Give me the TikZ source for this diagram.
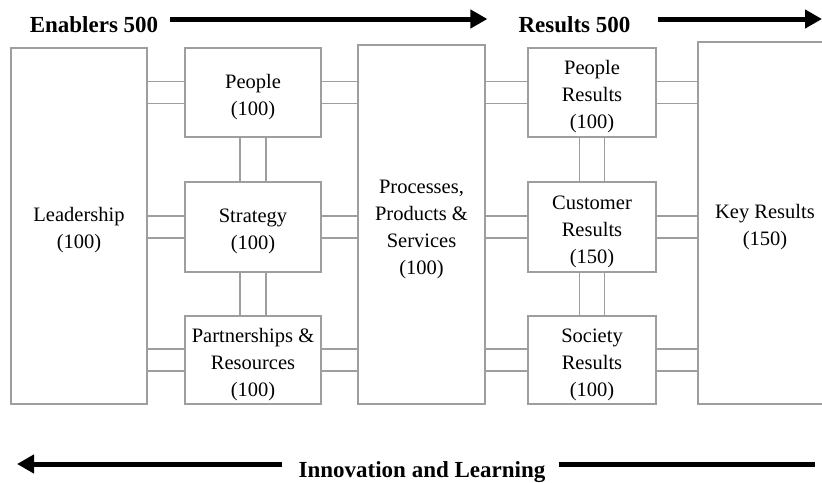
\documentclass[tikz,border=0pt]{standalone}
\usepackage{fontspec}
\setmainfont{Liberation Serif}
\usetikzlibrary{arrows.meta}
\definecolor{linegray}{gray}{0.62}
\newcommand{\tallstrut}{\rule{0pt}{22.5pt}}

\begin{document}
\begin{tikzpicture}[x=1pt,y=-1pt,
		box/.style={draw=linegray,line width=1.3pt,inner sep=0pt,align=center,
			font=\fontsize{20.5}{27}\selectfont},
		link/.style={draw=linegray,line width=1.3pt},
		title/.style={inner sep=0pt,anchor=base,font=\bfseries\fontsize{23}{27}\selectfont},
		bigarrow/.style={line width=5pt,-{Triangle[length=17pt,width=18pt]}}]
		\useasboundingbox (0,0) rectangle (822,482);
		\clip (0,0) rectangle (822,482);

		% enablers
		\node[box,minimum width=136,minimum height=356] (lead) at (79,226) {\tallstrut Leadership\\(100)};
		\node[box,minimum width=136,minimum height=89] (peo) at (253,92.5) {\tallstrut People\\(100)};
		\node[box,minimum width=136,minimum height=90] (str) at (253,227) {\tallstrut Strategy\\(100)};
		\node[box,minimum width=136,minimum height=88] (par) at (253,360) {\tallstrut Partnerships \&\\Resources\\(100)};
		\node[box,minimum width=127,minimum height=359] (proc) at (421.5,224.5) {\tallstrut Processes,\\Products \&\\Services\\(100)};

		% results
		\node[box,minimum width=128,minimum height=89] (pres) at (592,92.5) {\tallstrut People\\Results\\(100)};
		\node[box,minimum width=128,minimum height=90] (cres) at (592,227) {\tallstrut Customer\\Results\\(150)};
		\node[box,minimum width=128,minimum height=88] (sres) at (592,360) {\tallstrut Society\\Results\\(100)};
		\node[box,minimum width=134,minimum height=362] (key) at (765,223) {\tallstrut Key Results\\(150)};

		% double links
		\foreach \s/\l/\r in {peo/lead/proc,str/lead/proc,par/lead/proc,pres/proc/key,cres/proc/key,sres/proc/key}
			\foreach \d in {-11,11} {
				\draw[link] ([yshift=\d pt]\s.west) -- ([yshift=\d pt]\s.west -| \l.east);
				\draw[link] ([yshift=\d pt]\s.east) -- ([yshift=\d pt]\s.east -| \r.west);
			}
		\foreach \u/\v/\w in {peo/str/13,str/par/13,pres/cres/12.5,cres/sres/12.5}
			\foreach \d in {-\w,\w}
				\draw[link] ([xshift=\d pt]\u.south) -- ([xshift=\d pt]\u.south |- \v.north);

		% headings and arrows
		\node[title] (ena) at (94,32) {Enablers 500};
		\node[title] (res) at (574.5,32) {Results 500};
		\node[title] (inn) at (422,477) {Innovation and Learning};
		\coordinate (topend) at (822,19);
		\coordinate (innleft) at (17,464);
		\coordinate (innright) at (815,464);
		\draw[bigarrow] ([shift={(12,-13)}]ena.base east) -- ([shift={(-31,-13)}]res.base west);
		\draw[bigarrow] ([shift={(27,-13)}]res.base east) -- (topend);
		\draw[bigarrow] ([xshift=-16pt]inn.west |- innleft) -- (innleft);
		\draw[line width=5pt] ([xshift=13pt]inn.east |- innright) -- (innright);
	\end{tikzpicture}
\end{document}
